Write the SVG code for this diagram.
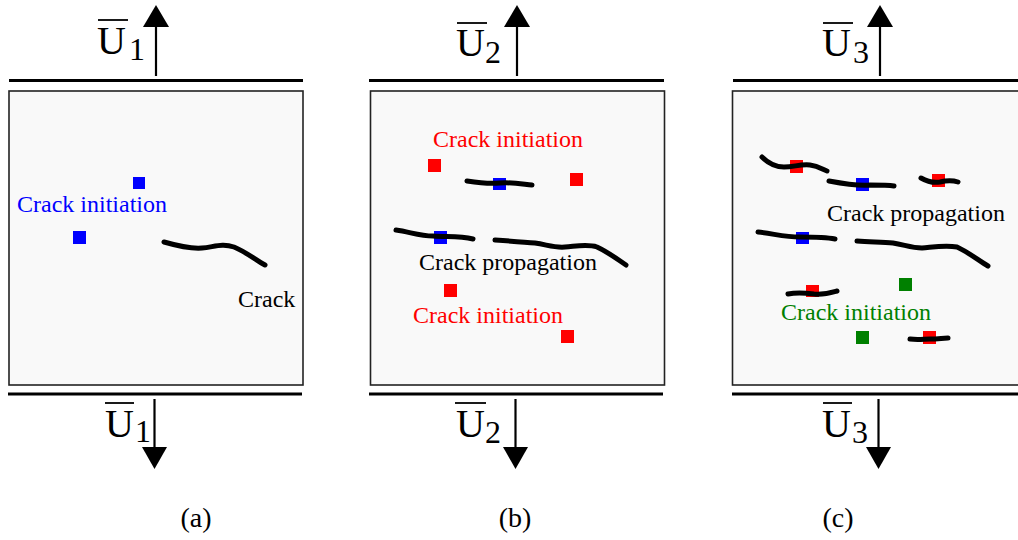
<svg xmlns="http://www.w3.org/2000/svg" width="1018" height="540" viewBox="0 0 1018 540">
<style>
.box{fill:#f9f9f9;stroke:#222;stroke-width:1.6}
.plate{stroke:#000;stroke-width:3.2}
.shaft{stroke:#000;stroke-width:2.2}
.ov{stroke:#000;stroke-width:1.8}
.crack{fill:none;stroke:#000;stroke-width:5;stroke-linecap:round;stroke-linejoin:round}
</style>
<defs>
  <polygon id="headUp" points="0,-22 -13,0 13,0" fill="#000"/>
  <polygon id="headDown" points="0,22 -12.5,0 12.5,0" fill="#000"/>
</defs>
<rect width="1018" height="540" fill="#fff"/>

<g id="panel-a">
  <line class="plate" x1="9" y1="80.5" x2="303" y2="80.5"/>
  <rect class="box" x="9" y="91" width="294" height="294"/>
  <line class="plate" x1="8" y1="394" x2="302" y2="394"/>
  <g id="arrow-a-top">
    <line class="shaft" x1="156" y1="76" x2="156" y2="25"/>
    <use href="#headUp" x="156" y="27"/>
    <line class="ov" x1="98" y1="20" x2="128" y2="20"/>
  </g>
  <g id="arrow-a-bottom">
    <line class="shaft" x1="154.5" y1="399" x2="154.5" y2="449"/>
    <use href="#headDown" x="154.5" y="447"/>
    <line class="ov" x1="105" y1="403" x2="134" y2="403"/>
  </g>
  <rect x="133" y="177" width="12" height="12" fill="#0000ff"/>
  <rect x="73" y="231" width="13" height="13" fill="#0000ff"/>
  <path class="crack" d="M164,242 C178,246 190,249 202,248 C214,247 222,243 234,247 C246,252 256,260 265,265"/>
</g>

<g id="panel-b">
  <line class="plate" x1="369" y1="80.5" x2="664" y2="80.5"/>
  <rect class="box" x="370.5" y="91" width="294" height="294"/>
  <line class="plate" x1="369" y1="394" x2="663" y2="394"/>
  <g id="arrow-b-top">
    <line class="shaft" x1="517" y1="76" x2="517" y2="25"/>
    <use href="#headUp" x="517" y="27"/>
    <line class="ov" x1="457" y1="23" x2="487" y2="23"/>
  </g>
  <g id="arrow-b-bottom">
    <line class="shaft" x1="515.5" y1="399" x2="515.5" y2="449"/>
    <use href="#headDown" x="515.5" y="447"/>
    <line class="ov" x1="455" y1="403" x2="486" y2="403"/>
  </g>
  <rect x="428" y="159" width="13" height="13" fill="#ff0000"/>
  <rect x="570" y="173" width="13" height="13" fill="#ff0000"/>
  <rect x="493" y="178" width="13" height="12" fill="#0000ff"/>
  <rect x="434" y="231" width="13" height="13" fill="#0000ff"/>
  <path class="crack" d="M467,181 C480,183 490,184 500,183 C512,182 522,184 532,185"/>
  <path class="crack" d="M396,230 C410,232 420,236 433,236 C448,237 460,236 473,239"/>
  <path class="crack" d="M495,240 C510,241 525,242 535,243 C548,245 555,248 565,247 C578,246 588,244 597,247 C608,252 617,259 626,265"/>
  <rect x="444" y="284" width="13" height="13" fill="#ff0000"/>
  <rect x="561" y="330" width="13" height="13" fill="#ff0000"/>
</g>

<g id="panel-c">
  <line class="plate" x1="733" y1="80.5" x2="1027" y2="80.5"/>
  <rect class="box" x="732.5" y="91" width="294" height="294"/>
  <line class="plate" x1="732" y1="394" x2="1026" y2="394"/>
  <g id="arrow-c-top">
    <line class="shaft" x1="880" y1="76" x2="880" y2="25"/>
    <use href="#headUp" x="880" y="27"/>
    <line class="ov" x1="823" y1="23" x2="853" y2="23"/>
  </g>
  <g id="arrow-c-bottom">
    <line class="shaft" x1="878.5" y1="399" x2="878.5" y2="449"/>
    <use href="#headDown" x="878.5" y="447"/>
    <line class="ov" x1="823" y1="403" x2="852" y2="403"/>
  </g>
  <rect x="790" y="160" width="13" height="13" fill="#ff0000"/>
  <rect x="856" y="178" width="13" height="13" fill="#0000ff"/>
  <rect x="932" y="174" width="13" height="13" fill="#ff0000"/>
  <rect x="796" y="232" width="13" height="12" fill="#0000ff"/>
  <rect x="806" y="285" width="13" height="12" fill="#ff0000"/>
  <rect x="923" y="331" width="13" height="13" fill="#ff0000"/>
  <path class="crack" d="M762,157 C768,163 774,167 784,167 C794,167 800,164 810,165 C818,166 822,169 827,171"/>
  <path class="crack" d="M829,181 C845,184 860,186 870,185 C880,185 888,185 894,186"/>
  <path class="crack" d="M921,178 C928,182 934,183 940,182 C948,180 952,180 958,182"/>
  <path class="crack" d="M758,232 C775,234 785,237 800,237 C815,237 825,237 835,239"/>
  <path class="crack" d="M857,241 C870,242 882,242 893,243 C905,245 912,248 922,248 C934,247 945,245 957,247 C968,252 978,260 988,266"/>
  <path class="crack" d="M788,294 C798,292 806,293 814,294 C824,295 830,293 837,291"/>
  <path class="crack" d="M910,339 C918,340 924,339 930,339 C938,339 943,338 948,338"/>
  <rect x="899" y="278" width="13" height="13" fill="#008000"/>
  <rect x="856" y="331" width="13" height="13" fill="#008000"/>
</g>

<text x="97" y="54" font-family="Liberation Serif" font-size="40">U</text>
<text x="129" y="60" font-family="Liberation Serif" font-size="32">1</text>
<text x="105" y="437" font-family="Liberation Serif" font-size="40">U</text>
<text x="135" y="442" font-family="Liberation Serif" font-size="32">1</text>
<text x="17" y="212" font-family="Liberation Serif" font-size="24" fill="#0000ff">Crack initiation</text>
<text x="238" y="307" font-family="Liberation Serif" font-size="24">Crack</text>
<text x="196" y="527" font-family="Liberation Serif" font-size="28" text-anchor="middle">(a)</text>
<text x="456" y="56" font-family="Liberation Serif" font-size="40">U</text>
<text x="485" y="63" font-family="Liberation Serif" font-size="32">2</text>
<text x="456" y="437" font-family="Liberation Serif" font-size="40">U</text>
<text x="485" y="443" font-family="Liberation Serif" font-size="32">2</text>
<text x="433" y="147" font-family="Liberation Serif" font-size="24" fill="#ff0000">Crack initiation</text>
<text x="419" y="270" font-family="Liberation Serif" font-size="24">Crack propagation</text>
<text x="413" y="323" font-family="Liberation Serif" font-size="24" fill="#ff0000">Crack initiation</text>
<text x="515" y="527" font-family="Liberation Serif" font-size="28" text-anchor="middle">(b)</text>
<text x="822" y="56" font-family="Liberation Serif" font-size="40">U</text>
<text x="853" y="63" font-family="Liberation Serif" font-size="32">3</text>
<text x="822" y="437" font-family="Liberation Serif" font-size="40">U</text>
<text x="852" y="443" font-family="Liberation Serif" font-size="32">3</text>
<text x="827" y="221" font-family="Liberation Serif" font-size="24">Crack propagation</text>
<text x="781" y="320" font-family="Liberation Serif" font-size="24" fill="#008000">Crack initiation</text>
<text x="838" y="527" font-family="Liberation Serif" font-size="28" text-anchor="middle">(c)</text>
</svg>
